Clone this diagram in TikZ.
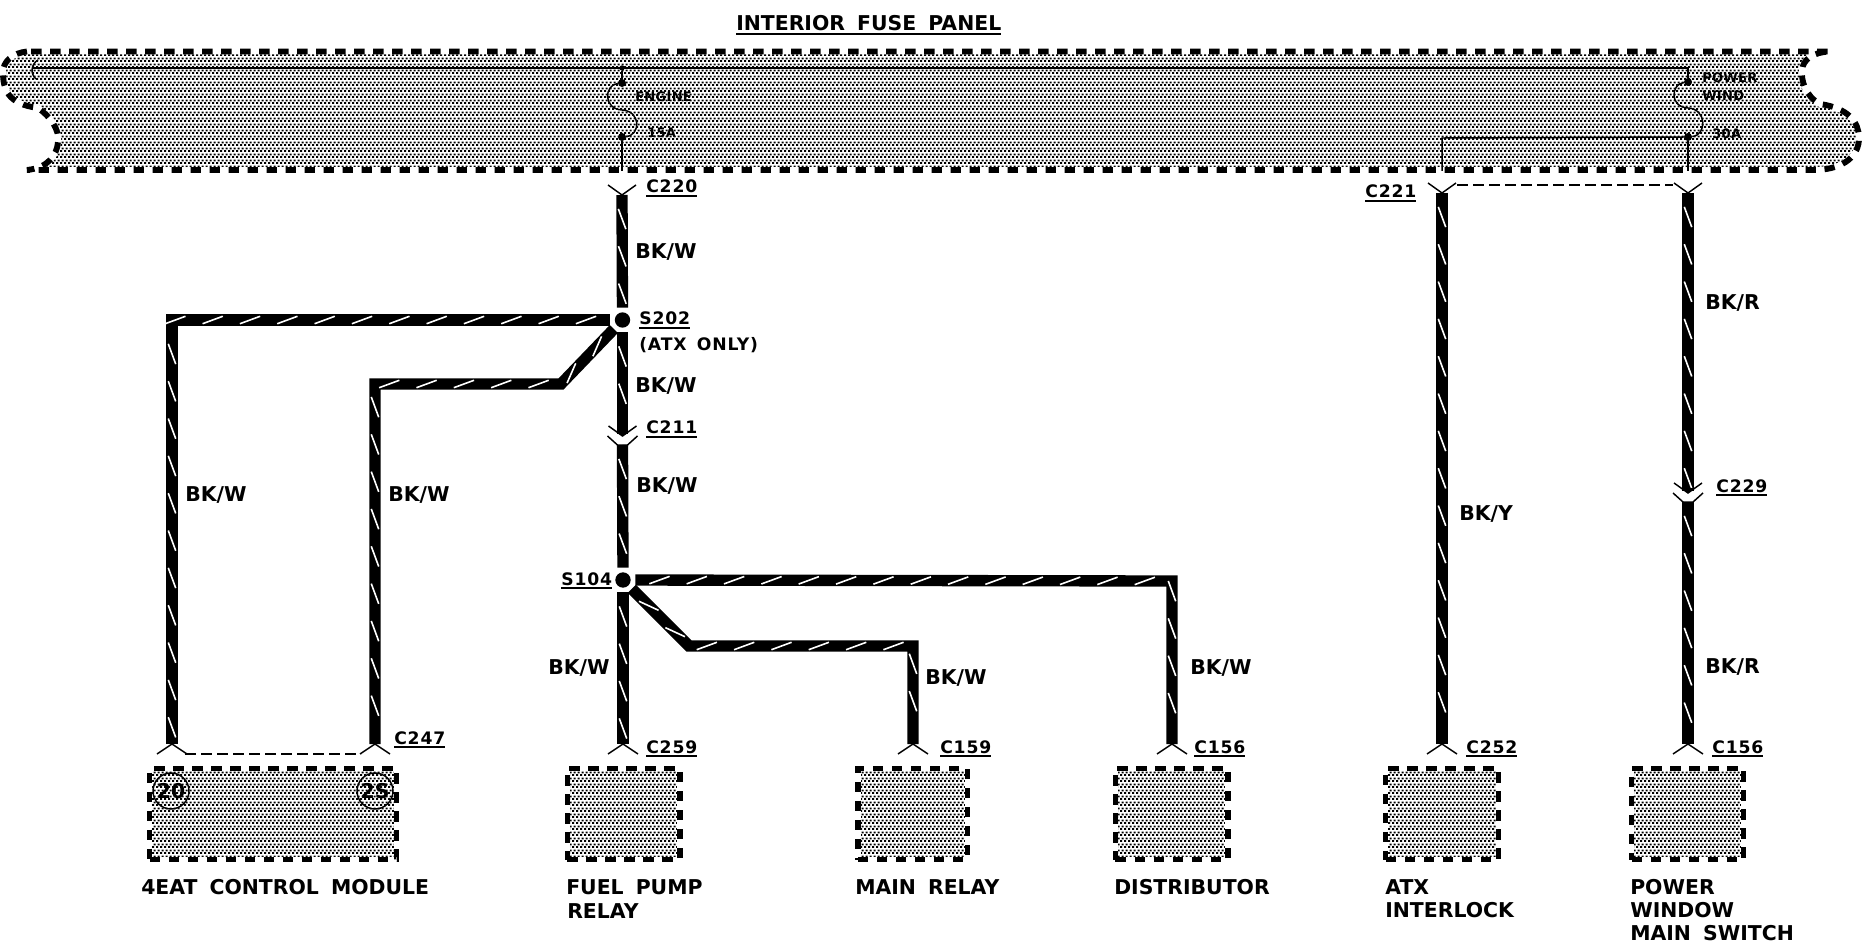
\documentclass[tikz,border=0pt]{standalone}
\usepackage{fontspec}
\usetikzlibrary{patterns,decorations.markings}
\setmainfont[WordSpace=1.7]{DejaVu Sans}
\newfontfamily\codefont[LetterSpace=5,WordSpace=1.5]{DejaVu Sans}
\newfontfamily\tinyfont[LetterSpace=2]{DejaVu Sans}
\newcommand\ulbl[1]{\leavevmode\setbox0=\hbox{#1}\rlap{\raisebox{-3pt}{\rule{\wd0}{1.4pt}}}\box0}
\pgfdeclarepatternformonly{dither}{\pgfqpoint{0pt}{0pt}}{\pgfqpoint{3pt}{4.5pt}}{\pgfqpoint{3pt}{4.5pt}}{%
  \pgfpathrectangle{\pgfqpoint{0pt}{0pt}}{\pgfqpoint{1.9pt}{1.6pt}}%
  \pgfpathrectangle{\pgfqpoint{1.5pt}{2.25pt}}{\pgfqpoint{1.9pt}{1.6pt}}%
  \pgfusepath{fill}}
\tikzset{
  hatched/.style={pattern=dither,pattern color=black,draw=white,line width=4.4pt,
    postaction={draw=black,line width=4.4pt,dash pattern=on 7.8pt off 6.45pt,pattern=none}},
  unit/.style={hatched,rectangle,inner sep=0pt,minimum height=68.25pt},
  wire/.style={draw=black,line width=8.5pt,miter limit=10,line join=miter,
    postaction={decorate,decoration={markings,
      mark=between positions 18pt and -6pt step 28pt with {
        \draw[white,line width=1.2pt] (-7.6pt,-2.8pt) -- (7.6pt,2.8pt);}}}},
  splice/.style={circle,fill=black,inner sep=0pt,minimum size=11.5pt,outer sep=3.6pt},
  dotj/.style={circle,fill=black,inner sep=0pt,minimum size=6pt},
  arm/.style={draw=black,line width=1.1pt},
  fine/.style={draw=black,line width=1.1pt},
  tie/.style={draw=black,line width=1pt,dash pattern=on 8pt off 4pt},
  txt/.style={anchor=base west,inner sep=0pt,font=\fontsize{15.3}{18}\selectfont\bfseries},
  code/.style={anchor=base west,inner sep=0pt,font=\fontsize{12.9}{15}\selectfont\codefont\bfseries},
  tiny/.style={anchor=base west,inner sep=0pt,font=\fontsize{9.8}{12}\selectfont\tinyfont\bfseries},
  pin/.style={circle,draw=black,line width=1.1pt,inner sep=0pt,minimum size=27pt,
    font=\fontsize{15.3}{18}\selectfont\bfseries},
}
\begin{document}
\begin{tikzpicture}[x=0.75pt,y=-0.75pt]
\useasboundingbox (0,0) rectangle (1862,944);
% interior fuse panel
\path[hatched] (27,51.5) .. controls (12,53) and (3,62) .. (3,72)
  .. controls (3,90) and (8,104) .. (38,108)
  .. controls (50,116) and (60,130) .. (58,142)
  .. controls (57,155) and (48,168) .. (27,170)
  -- (1816,170) .. controls (1845,169) and (1859,155) .. (1859,138)
  .. controls (1859,122) and (1848,108) .. (1820,104)
  .. controls (1805,96) and (1801,80) .. (1802,70)
  .. controls (1803,60) and (1812,52) .. (1831,51.5) -- cycle;
% nodes of the panel
\node[dotj,minimum size=4pt] (ejn) at (622,68) {};
\node[dotj] (e1) at (622,83) {};
\node[dotj] (e2) at (622,137) {};
\node[dotj] (p1) at (1688,82) {};
\node[dotj] (p2) at (1688,137) {};
\coordinate (busl) at (33,68);
\coordinate (busr) at (1688,68);
\coordinate (eout) at (622,171);
\coordinate (pout) at (1688,171);
\coordinate (abr) at (1442,138);
\coordinate (aout) at (1442,171);
\draw[fine] (busl) -- (busr) -- (p1);
\draw[fine] (38,60) .. controls (31,64) and (30,74) .. (36,79);
\draw[fine] (ejn) -- (e1);
\draw[fine] (e1) .. controls (604,85) and (603,109) .. (622,110) .. controls (641,111) and (641,135) .. (e2);
\draw[fine] (e2) -- (eout);
\draw[fine] (p1) .. controls (1671,84) and (1669,107) .. (1688,108) .. controls (1707,109) and (1707,135) .. (p2);
\draw[fine] (p2) -- (pout);
\draw[fine] (p2) -- (abr) -- (aout);
\node[tiny] (tengine) at (635,102) {ENGINE};
\node[tiny] (t15a) at (647,138) {15A};
\node[tiny] (tpower) at (1702,83) {POWER};
\node[tiny] (twind) at (1702,101) {WIND};
\node[tiny] (t30a) at (1712,139) {30A};
\node[txt] (title) at (736,31) {\ulbl{INTERIOR FUSE PANEL}};
% units
\node[unit,minimum width=185.25pt] (eat) at (273,814) {};
\node[unit,minimum width=84.4pt] (fuel) at (623.75,814) {};
\node[unit,minimum width=82.1pt] (mainr) at (912.75,814) {};
\node[unit,minimum width=84.4pt] (dist) at (1171.75,814) {};
\node[unit,minimum width=84.75pt] (atx) at (1442,814) {};
\node[unit,minimum width=84pt] (pwin) at (1687.5,814) {};
\node[pin] (pin20) at (171,791) {20};
\node[pin] (pin2s) at (375,791) {2S};
% splices and connector points
\node[splice] (s202) at (622.5,320) {};
\node[splice] (s104) at (623,580) {};
\coordinate (c220) at (622,195);
\coordinate (c211u) at (622.5,434);
\coordinate (c211d) at (622.5,445);
\coordinate (c221a) at (1442,193);
\coordinate (c221b) at (1688,193);
\coordinate (c229u) at (1688,491);
\coordinate (c229d) at (1688,502);
\coordinate (c247a) at (172,744);
\coordinate (c247b) at (375,744);
\coordinate (c259) at (623,744);
\coordinate (c159) at (913,744);
\coordinate (c156a) at (1172,744);
\coordinate (c252) at (1442,744);
\coordinate (c156b) at (1688,744);
\coordinate (b1) at (172,320);
\coordinate (b2) at (375,384);
\coordinate (b3) at (561,384);
\coordinate (b4) at (1172,581);
\coordinate (b5) at (689,646);
\coordinate (b6) at (913,646);
% wires
\draw[wire] (c220) -- (s202);
\draw[wire] (s202) -- (c211u);
\draw[wire] (c211d) -- (s104);
\draw[wire] (s202) -- (b1) -- (c247a);
\draw[wire] (s202) -- (b3) -- (b2) -- (c247b);
\draw[wire] (s104) -- (c259);
\draw[wire] (s104) -- (b4) -- (c156a);
\draw[wire] (s104) -- (b5) -- (b6) -- (c159);
\draw[wire] (c221a) -- (c252);
\draw[wire] (c221b) -- (c229u);
\draw[wire] (c229d) -- (c156b);
% connector symbols
\foreach \c in {c220,c221a,c221b}
  \draw[arm] (\c) ++(-14,-10) -- (\c) -- ++(14,-10);
\foreach \c in {c247a,c247b,c259,c159,c156a,c252,c156b}
  \draw[arm] (\c) ++(-15,10) -- (\c) -- ++(15,10);
\foreach \c in {c211u,c229u}{
  \fill[black] (\c) ++(-5.7,-3) -- ++(11.4,0) -- ++(-5.7,5) -- cycle;
  \draw[arm] (\c) ++(-14,-8) -- ++(14,10) -- ++(14,-10);}
\foreach \c in {c211d,c229d}
  \draw[arm] (\c) ++(-15,-9) -- ++(10,9) -- ++(10,0) -- ++(10,-9);
\draw[tie] (185,754) -- (361,754);
\draw[tie] (1457,185) -- (1673,185);
% wire colours
\node[txt] (w1) at (635,259) {BK/W};
\node[txt] (w2) at (635,393) {BK/W};
\node[txt] (w3) at (636,492) {BK/W};
\node[txt] (w4) at (185,501) {BK/W};
\node[txt] (w5) at (388,501) {BK/W};
\node[txt] (w6) at (548,674) {BK/W};
\node[txt] (w7) at (925,684) {BK/W};
\node[txt] (w8) at (1190,674) {BK/W};
\node[txt] (r1) at (1705,310) {BK/R};
\node[txt] (r2) at (1705,673) {BK/R};
\node[txt] (y1) at (1459,520) {BK/Y};
% connector and splice labels
\node[code] (l220) at (646,193) {\ulbl{C220}};
\node[code] (l221) at (1365,198) {\ulbl{C221}};
\node[code] (l202) at (639,325) {\ulbl{S202}};
\node[code] (latx) at (639,351) {(ATX ONLY)};
\node[code] (l211) at (646,434) {\ulbl{C211}};
\node[code] (l104) at (561,585) {\ulbl{S104}};
\node[code] (l229) at (1716,492) {\ulbl{C229}};
\node[code] (l247) at (394,744) {\ulbl{C247}};
\node[code] (l259) at (646,753) {\ulbl{C259}};
\node[code] (l159) at (940,753) {\ulbl{C159}};
\node[code] (l156a) at (1194,753) {\ulbl{C156}};
\node[code] (l252) at (1466,753) {\ulbl{C252}};
\node[code] (l156b) at (1712,753) {\ulbl{C156}};
% unit names
\node[txt] (n1) at (141,894) {4EAT CONTROL MODULE};
\node[txt] (n2a) at (566,894) {FUEL PUMP};
\node[txt] (n2b) at (567,918) {RELAY};
\node[txt] (n3) at (855,894) {MAIN RELAY};
\node[txt] (n4) at (1114,894) {DISTRIBUTOR};
\node[txt] (n5a) at (1385,894) {ATX};
\node[txt] (n5b) at (1385,917) {INTERLOCK};
\node[txt] (n6a) at (1630,894) {POWER};
\node[txt] (n6b) at (1630,917) {WINDOW};
\node[txt] (n6c) at (1630,940) {MAIN SWITCH};
\end{tikzpicture}
\end{document}
